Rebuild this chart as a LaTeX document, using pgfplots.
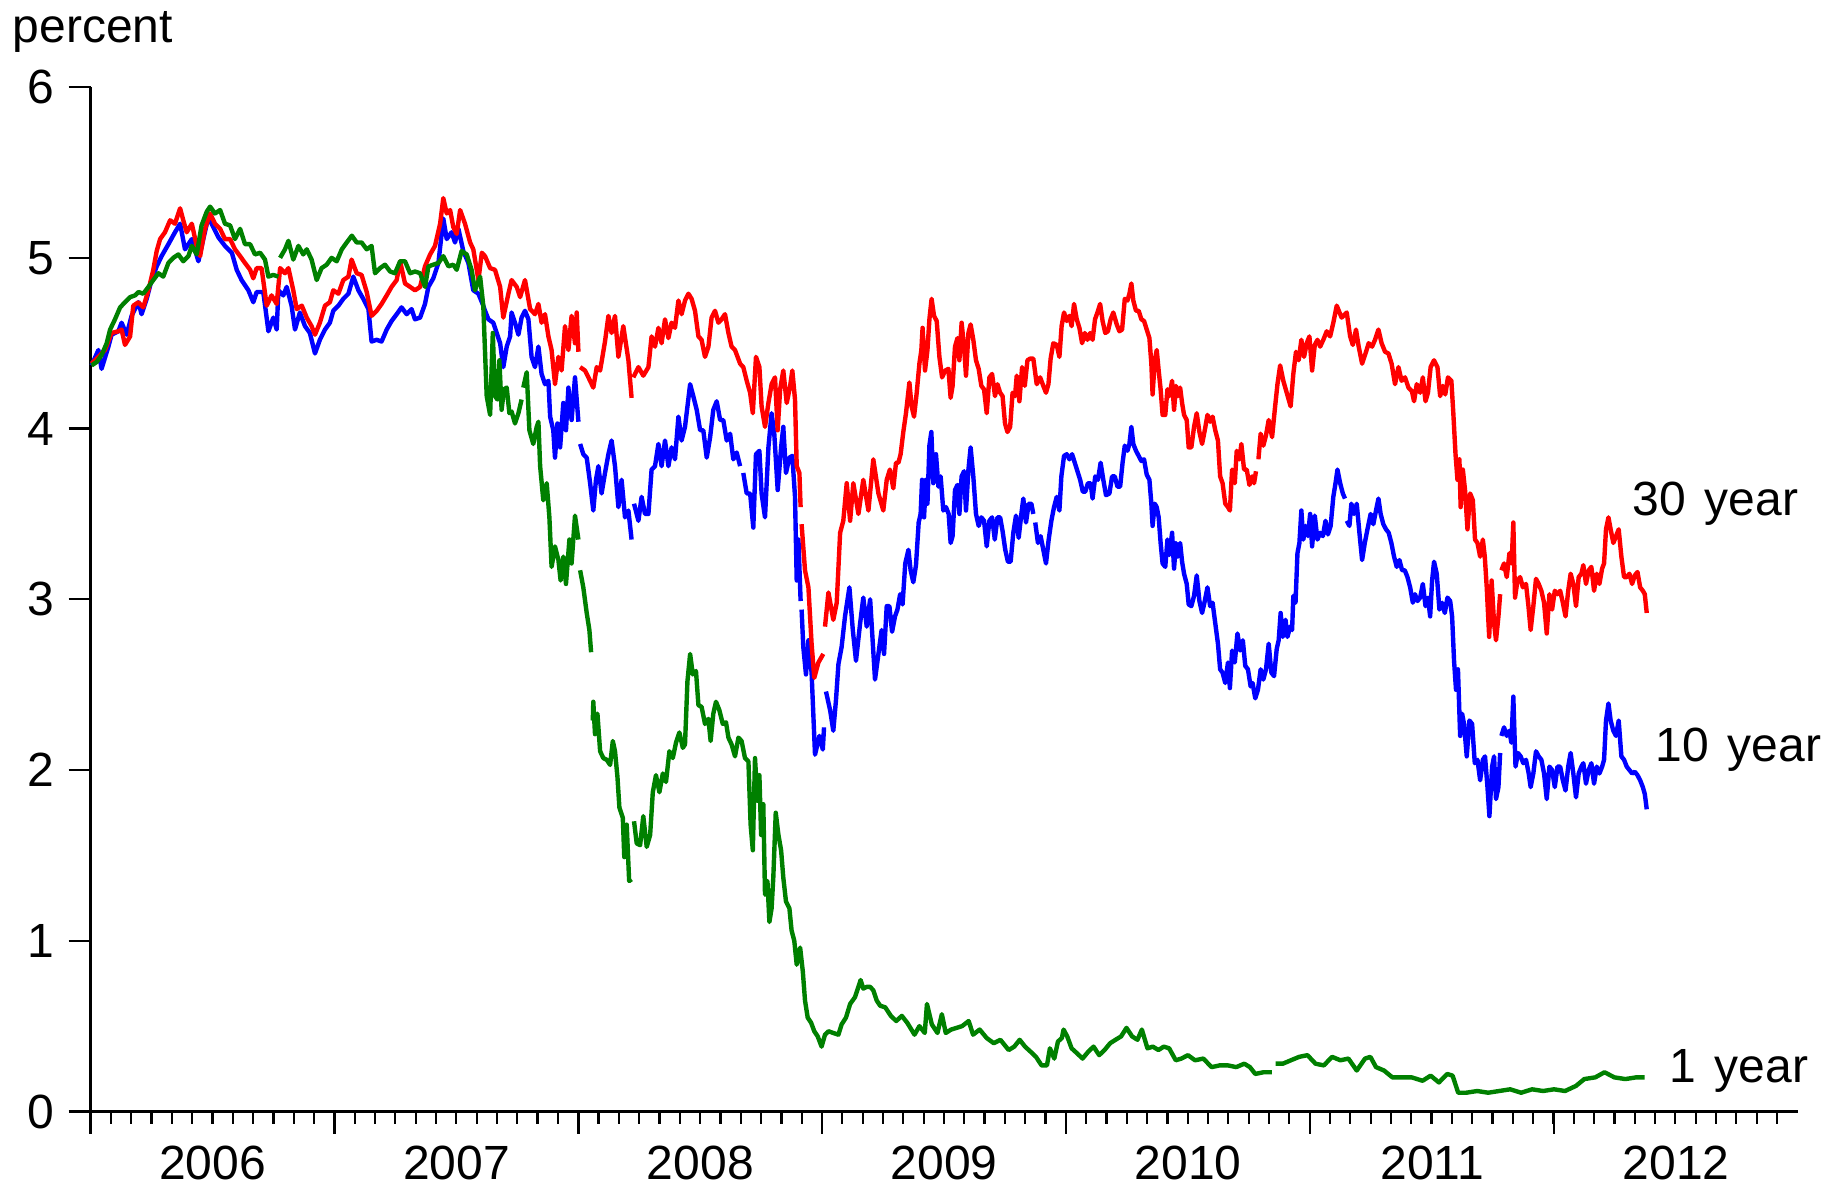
\documentclass[border=0pt]{standalone}
\usepackage{fontspec}
\setmainfont{Liberation Sans}
\usepackage{pgfplots}
\usepackage{pgfplotstable}
\pgfplotsset{compat=1.18}
\definecolor{ered}{RGB}{255,0,0}
\definecolor{eblue}{RGB}{0,0,255}
\definecolor{egreen}{RGB}{0,128,0}

\pgfplotstableread{
x y
2006.004 4.37
2006.032 4.46
2006.045 4.35
2006.073 4.48
2006.086 4.55
2006.114 4.57
2006.127 4.62
2006.148 4.55
2006.168 4.66
2006.196 4.74
2006.209 4.67
2006.230 4.76
2006.250 4.87
2006.271 4.95
2006.291 5.01
2006.319 5.08
2006.346 5.15
2006.367 5.20
2006.387 5.05
2006.415 5.11
2006.442 4.98
2006.462 5.11
2006.483 5.24
2006.503 5.18
2006.524 5.12
2006.551 5.07
2006.579 5.03
2006.599 4.93
2006.619 4.87
2006.647 4.81
2006.667 4.74
2006.681 4.80
2006.708 4.80
2006.729 4.57
2006.749 4.65
2006.763 4.58
2006.770 4.81
2006.790 4.78
2006.804 4.83
2006.824 4.72
2006.838 4.58
2006.858 4.68
2006.879 4.60
2006.899 4.56
2006.920 4.44
2006.940 4.52
2006.961 4.58
2006.981 4.62
2006.995 4.69
2007.016 4.72
2007.036 4.76
2007.057 4.79
2007.077 4.89
2007.098 4.81
2007.118 4.76
2007.139 4.70
2007.152 4.51
2007.173 4.52
2007.193 4.51
2007.214 4.58
2007.234 4.63
2007.255 4.67
2007.275 4.71
2007.296 4.67
2007.316 4.70
2007.330 4.64
2007.351 4.65
2007.371 4.73
2007.385 4.83
2007.405 4.88
2007.426 4.97
2007.446 5.23
2007.460 5.11
2007.480 5.15
2007.494 5.09
2007.508 5.17
2007.528 5.04
2007.549 4.97
2007.569 4.81
2007.590 4.79
2007.610 4.72
2007.617 4.69
2007.631 4.64
2007.651 4.62
2007.665 4.56
2007.679 4.50
2007.692 4.36
2007.706 4.48
2007.720 4.54
2007.726 4.68
2007.740 4.62
2007.754 4.55
2007.767 4.65
2007.781 4.69
2007.795 4.64
2007.808 4.42
2007.822 4.36
2007.836 4.48
2007.849 4.32
2007.863 4.26
2007.877 4.28
2007.884 4.07
2007.897 3.99
2007.904 3.83
2007.914 4.03
2007.925 3.89
2007.938 4.15
2007.949 3.99
2007.959 4.24
2007.972 4.05
2007.986 4.30
2008.000 4.04
2008.003 nan
2008.007 3.91
2008.020 3.85
2008.034 3.83
2008.048 3.68
2008.061 3.52
2008.072 3.70
2008.082 3.78
2008.095 3.62
2008.109 3.74
2008.123 3.85
2008.136 3.93
2008.150 3.78
2008.164 3.54
2008.177 3.70
2008.191 3.48
2008.205 3.52
2008.218 3.35
2008.222 nan
2008.228 3.56
2008.246 3.46
2008.259 3.60
2008.273 3.50
2008.287 3.50
2008.300 3.76
2008.314 3.78
2008.328 3.91
2008.341 3.78
2008.355 3.93
2008.369 3.78
2008.382 3.89
2008.396 3.82
2008.410 4.07
2008.423 3.93
2008.437 4.01
2008.458 4.26
2008.471 4.19
2008.485 4.11
2008.499 3.99
2008.512 3.99
2008.526 3.83
2008.540 3.95
2008.553 4.11
2008.567 4.16
2008.581 4.05
2008.594 4.05
2008.608 3.93
2008.622 3.97
2008.635 3.82
2008.649 3.86
2008.663 3.78
2008.670 nan
2008.676 3.74
2008.690 3.62
2008.704 3.62
2008.717 3.42
2008.728 3.85
2008.742 3.87
2008.751 3.62
2008.765 3.48
2008.779 3.89
2008.792 4.09
2008.803 3.97
2008.817 3.64
2008.831 3.89
2008.840 4.01
2008.851 3.74
2008.865 3.83
2008.877 3.84
2008.888 3.60
2008.895 3.11
2008.902 3.35
2008.911 2.99
2008.913 nan
2008.915 2.94
2008.922 2.72
2008.933 2.56
2008.943 2.76
2008.956 2.57
2008.970 2.09
2008.988 2.20
2009.002 2.12
2009.007 2.25
2009.011 nan
2009.015 2.46
2009.032 2.35
2009.045 2.23
2009.056 2.41
2009.066 2.62
2009.079 2.72
2009.093 2.90
2009.111 3.07
2009.125 2.82
2009.138 2.64
2009.155 2.86
2009.168 3.01
2009.182 2.84
2009.196 3.00
2009.216 2.53
2009.230 2.68
2009.243 2.82
2009.253 2.68
2009.264 2.96
2009.275 2.96
2009.286 2.81
2009.298 2.90
2009.308 2.94
2009.319 3.03
2009.329 2.97
2009.340 3.21
2009.353 3.29
2009.362 3.17
2009.373 3.10
2009.384 3.20
2009.395 3.45
2009.403 3.50
2009.409 3.70
2009.417 3.48
2009.425 3.70
2009.431 3.56
2009.439 3.90
2009.447 3.98
2009.455 3.68
2009.466 3.85
2009.476 3.66
2009.485 3.72
2009.496 3.52
2009.507 3.54
2009.518 3.50
2009.526 3.33
2009.534 3.37
2009.544 3.64
2009.554 3.67
2009.562 3.50
2009.571 3.72
2009.581 3.75
2009.589 3.52
2009.599 3.76
2009.608 3.89
2009.619 3.72
2009.630 3.50
2009.641 3.43
2009.652 3.48
2009.663 3.46
2009.674 3.31
2009.685 3.46
2009.696 3.48
2009.707 3.35
2009.718 3.48
2009.729 3.48
2009.739 3.40
2009.750 3.29
2009.761 3.22
2009.772 3.22
2009.783 3.39
2009.794 3.49
2009.805 3.36
2009.816 3.50
2009.824 3.59
2009.835 3.45
2009.846 3.56
2009.857 3.56
2009.865 3.50
2009.869 nan
2009.873 3.45
2009.884 3.33
2009.895 3.37
2009.906 3.29
2009.917 3.21
2009.928 3.35
2009.939 3.46
2009.950 3.54
2009.961 3.60
2009.972 3.52
2009.980 3.72
2009.991 3.84
2010.002 3.85
2010.013 3.82
2010.024 3.85
2010.035 3.80
2010.046 3.75
2010.057 3.70
2010.068 3.63
2010.078 3.63
2010.089 3.68
2010.100 3.68
2010.108 3.59
2010.119 3.72
2010.130 3.70
2010.141 3.80
2010.152 3.70
2010.163 3.61
2010.177 3.62
2010.188 3.72
2010.199 3.72
2010.210 3.66
2010.221 3.66
2010.231 3.80
2010.240 3.90
2010.251 3.87
2010.259 3.91
2010.267 4.01
2010.275 3.91
2010.286 3.87
2010.297 3.84
2010.308 3.81
2010.319 3.82
2010.330 3.73
2010.341 3.70
2010.349 3.56
2010.354 3.43
2010.363 3.56
2010.371 3.54
2010.379 3.48
2010.387 3.33
2010.395 3.21
2010.406 3.19
2010.415 3.35
2010.423 3.26
2010.434 3.39
2010.442 3.18
2010.450 3.33
2010.458 3.25
2010.467 3.33
2010.475 3.22
2010.483 3.15
2010.494 3.09
2010.502 2.97
2010.513 2.96
2010.524 3.02
2010.535 3.14
2010.546 2.99
2010.557 2.92
2010.568 2.99
2010.579 3.07
2010.590 2.96
2010.600 2.98
2010.611 2.86
2010.622 2.74
2010.631 2.59
2010.641 2.57
2010.652 2.51
2010.663 2.63
2010.671 2.48
2010.680 2.70
2010.691 2.63
2010.702 2.80
2010.713 2.70
2010.724 2.76
2010.734 2.61
2010.745 2.59
2010.756 2.49
2010.764 2.51
2010.775 2.42
2010.786 2.47
2010.797 2.59
2010.808 2.53
2010.819 2.59
2010.830 2.74
2010.841 2.57
2010.852 2.55
2010.863 2.71
2010.871 2.76
2010.879 2.92
2010.888 2.78
2010.899 2.88
2010.907 2.78
2010.918 2.84
2010.926 2.82
2010.931 3.02
2010.940 2.98
2010.948 3.27
2010.956 3.33
2010.964 3.52
2010.972 3.35
2010.981 3.43
2010.991 3.37
2011.000 3.50
2011.008 3.31
2011.019 3.49
2011.030 3.35
2011.041 3.39
2011.052 3.37
2011.063 3.46
2011.073 3.38
2011.084 3.43
2011.095 3.60
2011.104 3.68
2011.112 3.76
2011.123 3.68
2011.134 3.62
2011.143 3.59
2011.146 nan
2011.150 3.46
2011.161 3.43
2011.169 3.56
2011.180 3.50
2011.191 3.56
2011.202 3.39
2011.213 3.23
2011.224 3.33
2011.235 3.41
2011.248 3.50
2011.259 3.44
2011.270 3.52
2011.280 3.59
2011.289 3.50
2011.300 3.44
2011.311 3.41
2011.322 3.39
2011.333 3.33
2011.344 3.25
2011.355 3.19
2011.366 3.23
2011.377 3.17
2011.388 3.17
2011.399 3.13
2011.410 3.07
2011.421 2.98
2011.430 3.03
2011.440 2.99
2011.451 3.01
2011.462 3.09
2011.473 2.96
2011.483 3.01
2011.492 2.90
2011.500 3.11
2011.508 3.22
2011.519 3.15
2011.530 2.94
2011.541 2.98
2011.552 2.92
2011.563 3.01
2011.574 2.99
2011.582 2.90
2011.590 2.64
2011.598 2.47
2011.606 2.59
2011.615 2.20
2011.623 2.33
2011.631 2.27
2011.642 2.08
2011.653 2.29
2011.664 2.27
2011.675 2.04
2011.686 2.06
2011.697 1.94
2011.708 2.06
2011.717 2.08
2011.727 1.90
2011.735 1.73
2011.746 2.02
2011.754 2.08
2011.762 1.83
2011.772 1.90
2011.779 2.10
2011.781 nan
2011.784 2.20
2011.795 2.25
2011.806 2.20
2011.817 2.23
2011.825 2.16
2011.833 2.43
2011.842 2.02
2011.852 2.10
2011.863 2.08
2011.874 2.04
2011.885 2.06
2011.896 1.98
2011.904 1.90
2011.915 1.98
2011.926 2.11
2011.937 2.08
2011.948 2.06
2011.959 1.98
2011.970 1.83
2011.981 2.02
2011.992 2.00
2012.003 1.90
2012.014 2.02
2012.025 2.02
2012.036 1.94
2012.047 1.88
2012.058 2.02
2012.068 2.10
2012.079 1.98
2012.090 1.84
2012.101 1.98
2012.112 2.02
2012.120 2.04
2012.131 1.92
2012.142 2.00
2012.153 2.04
2012.164 1.92
2012.175 2.02
2012.186 1.98
2012.197 2.02
2012.205 2.06
2012.213 2.29
2012.223 2.39
2012.232 2.29
2012.243 2.23
2012.254 2.20
2012.265 2.29
2012.276 2.08
2012.287 2.06
2012.298 2.02
2012.309 2.00
2012.320 1.98
2012.331 1.99
2012.342 1.97
2012.353 1.94
2012.364 1.90
2012.372 1.86
2012.380 1.77
}\blueT

\pgfplotstableread{
x y
2006.004 4.38
2006.059 4.46
2006.086 4.56
2006.114 4.57
2006.127 4.58
2006.141 4.49
2006.162 4.54
2006.175 4.72
2006.196 4.74
2006.216 4.71
2006.237 4.81
2006.257 4.93
2006.271 5.04
2006.285 5.11
2006.305 5.15
2006.326 5.22
2006.346 5.20
2006.367 5.29
2006.380 5.22
2006.394 5.15
2006.415 5.20
2006.435 5.07
2006.449 5.01
2006.469 5.17
2006.490 5.26
2006.510 5.20
2006.531 5.17
2006.551 5.11
2006.572 5.11
2006.592 5.05
2006.613 5.01
2006.633 4.97
2006.654 4.93
2006.667 4.88
2006.681 4.94
2006.701 4.94
2006.722 4.72
2006.742 4.78
2006.763 4.73
2006.777 4.94
2006.797 4.91
2006.811 4.94
2006.831 4.81
2006.845 4.70
2006.866 4.72
2006.886 4.65
2006.906 4.60
2006.920 4.55
2006.940 4.62
2006.961 4.72
2006.981 4.74
2006.995 4.81
2007.016 4.79
2007.036 4.87
2007.057 4.89
2007.070 4.99
2007.091 4.91
2007.111 4.90
2007.132 4.80
2007.152 4.66
2007.173 4.69
2007.193 4.73
2007.214 4.78
2007.234 4.83
2007.255 4.87
2007.269 4.98
2007.289 4.85
2007.310 4.83
2007.330 4.81
2007.351 4.83
2007.371 4.95
2007.392 5.02
2007.412 5.07
2007.433 5.20
2007.446 5.35
2007.460 5.26
2007.474 5.28
2007.487 5.18
2007.501 5.14
2007.515 5.28
2007.535 5.20
2007.556 5.09
2007.569 5.05
2007.590 4.87
2007.604 5.03
2007.617 5.01
2007.638 4.94
2007.658 4.93
2007.679 4.83
2007.692 4.65
2007.713 4.79
2007.726 4.87
2007.747 4.83
2007.761 4.77
2007.781 4.87
2007.802 4.70
2007.822 4.67
2007.836 4.73
2007.849 4.62
2007.863 4.67
2007.877 4.54
2007.890 4.46
2007.904 4.26
2007.918 4.42
2007.931 4.34
2007.945 4.60
2007.959 4.46
2007.972 4.66
2007.986 4.50
2007.993 4.68
2008.000 4.45
2008.003 nan
2008.007 4.36
2008.027 4.34
2008.041 4.30
2008.061 4.24
2008.075 4.36
2008.089 4.34
2008.109 4.51
2008.123 4.66
2008.136 4.56
2008.150 4.66
2008.164 4.42
2008.184 4.60
2008.205 4.40
2008.218 4.18
2008.222 nan
2008.225 4.30
2008.246 4.36
2008.266 4.31
2008.287 4.36
2008.300 4.54
2008.314 4.48
2008.328 4.59
2008.341 4.50
2008.355 4.64
2008.369 4.53
2008.382 4.62
2008.396 4.59
2008.410 4.75
2008.423 4.67
2008.437 4.75
2008.451 4.79
2008.464 4.76
2008.478 4.69
2008.492 4.54
2008.505 4.52
2008.519 4.42
2008.533 4.48
2008.546 4.65
2008.560 4.69
2008.574 4.62
2008.587 4.64
2008.601 4.67
2008.615 4.56
2008.628 4.48
2008.642 4.46
2008.663 4.38
2008.676 4.36
2008.690 4.28
2008.704 4.21
2008.715 4.09
2008.728 4.42
2008.742 4.36
2008.751 4.13
2008.765 4.01
2008.779 4.15
2008.792 4.26
2008.806 4.30
2008.817 3.99
2008.827 4.23
2008.840 4.34
2008.854 4.15
2008.868 4.25
2008.877 4.34
2008.888 4.17
2008.895 3.78
2008.906 3.74
2008.911 3.54
2008.913 nan
2008.915 3.44
2008.929 3.17
2008.943 3.07
2008.956 2.74
2008.967 2.54
2008.984 2.63
2009.004 2.68
2009.008 nan
2009.011 2.84
2009.025 3.04
2009.045 2.88
2009.059 2.98
2009.073 3.39
2009.086 3.46
2009.100 3.68
2009.114 3.46
2009.127 3.68
2009.148 3.50
2009.168 3.70
2009.189 3.52
2009.209 3.82
2009.230 3.62
2009.250 3.52
2009.264 3.70
2009.277 3.76
2009.291 3.65
2009.302 3.80
2009.312 3.80
2009.321 3.85
2009.332 3.98
2009.343 4.09
2009.357 4.27
2009.366 4.13
2009.376 4.07
2009.387 4.21
2009.398 4.38
2009.406 4.46
2009.411 4.59
2009.421 4.34
2009.431 4.46
2009.439 4.64
2009.448 4.76
2009.458 4.66
2009.469 4.63
2009.480 4.42
2009.491 4.30
2009.504 4.34
2009.517 4.35
2009.526 4.18
2009.534 4.25
2009.544 4.48
2009.554 4.53
2009.562 4.40
2009.571 4.62
2009.581 4.48
2009.589 4.31
2009.599 4.56
2009.608 4.61
2009.619 4.52
2009.630 4.40
2009.641 4.35
2009.652 4.25
2009.663 4.23
2009.674 4.09
2009.685 4.30
2009.696 4.32
2009.708 4.19
2009.718 4.26
2009.729 4.21
2009.739 4.19
2009.749 4.03
2009.759 3.98
2009.770 4.01
2009.780 4.21
2009.790 4.19
2009.797 4.31
2009.808 4.16
2009.819 4.36
2009.830 4.25
2009.841 4.40
2009.852 4.41
2009.865 4.41
2009.879 4.26
2009.893 4.30
2009.906 4.25
2009.917 4.21
2009.927 4.26
2009.936 4.41
2009.947 4.50
2009.961 4.49
2009.972 4.42
2009.981 4.60
2009.991 4.68
2010.002 4.63
2010.013 4.66
2010.022 4.60
2010.032 4.73
2010.043 4.64
2010.054 4.59
2010.065 4.50
2010.076 4.56
2010.087 4.52
2010.098 4.56
2010.108 4.52
2010.118 4.64
2010.128 4.68
2010.139 4.73
2010.149 4.63
2010.160 4.56
2010.171 4.57
2010.182 4.64
2010.193 4.68
2010.207 4.61
2010.218 4.57
2010.229 4.58
2010.240 4.76
2010.251 4.75
2010.259 4.79
2010.267 4.85
2010.275 4.75
2010.286 4.69
2010.297 4.69
2010.308 4.64
2010.319 4.63
2010.330 4.58
2010.341 4.53
2010.349 4.38
2010.354 4.20
2010.363 4.40
2010.371 4.46
2010.379 4.34
2010.387 4.23
2010.395 4.08
2010.406 4.08
2010.415 4.23
2010.423 4.19
2010.434 4.28
2010.442 4.11
2010.450 4.25
2010.458 4.19
2010.467 4.24
2010.475 4.15
2010.483 4.08
2010.494 4.05
2010.502 3.89
2010.513 3.89
2010.524 4.01
2010.535 4.09
2010.546 3.98
2010.557 3.91
2010.568 3.99
2010.579 4.08
2010.590 4.04
2010.600 4.07
2010.611 3.99
2010.622 3.93
2010.631 3.72
2010.641 3.68
2010.652 3.56
2010.663 3.54
2010.671 3.52
2010.680 3.76
2010.691 3.68
2010.699 3.87
2010.710 3.82
2010.718 3.91
2010.729 3.76
2010.740 3.76
2010.751 3.67
2010.762 3.72
2010.770 3.68
2010.778 3.75
2010.783 nan
2010.788 3.82
2010.797 3.97
2010.808 3.90
2010.819 3.96
2010.830 4.05
2010.844 3.95
2010.855 4.11
2010.866 4.26
2010.877 4.37
2010.890 4.28
2010.904 4.21
2010.920 4.13
2010.931 4.32
2010.942 4.45
2010.953 4.40
2010.964 4.52
2010.975 4.42
2010.986 4.50
2010.997 4.54
2011.008 4.34
2011.019 4.49
2011.030 4.52
2011.041 4.48
2011.054 4.52
2011.068 4.57
2011.082 4.54
2011.095 4.62
2011.109 4.72
2011.129 4.65
2011.150 4.68
2011.164 4.54
2011.175 4.49
2011.188 4.58
2011.199 4.48
2011.213 4.38
2011.227 4.44
2011.240 4.50
2011.254 4.48
2011.266 4.52
2011.280 4.58
2011.293 4.50
2011.307 4.45
2011.321 4.44
2011.334 4.38
2011.348 4.26
2011.362 4.36
2011.375 4.28
2011.389 4.30
2011.403 4.24
2011.417 4.22
2011.426 4.16
2011.437 4.26
2011.451 4.21
2011.462 4.30
2011.473 4.16
2011.483 4.21
2011.494 4.36
2011.508 4.40
2011.522 4.36
2011.533 4.19
2011.544 4.25
2011.554 4.20
2011.565 4.30
2011.579 4.28
2011.587 4.09
2011.596 3.85
2011.604 3.70
2011.612 3.82
2011.617 3.54
2011.626 3.76
2011.635 3.64
2011.645 3.41
2011.656 3.62
2011.667 3.58
2011.676 3.35
2011.686 3.33
2011.697 3.25
2011.708 3.35
2011.716 3.25
2011.724 3.07
2011.734 2.78
2011.744 3.11
2011.754 2.86
2011.762 2.76
2011.772 2.90
2011.779 3.03
2011.781 nan
2011.784 3.17
2011.795 3.21
2011.806 3.13
2011.817 3.27
2011.826 3.21
2011.833 3.45
2011.840 3.01
2011.850 3.11
2011.861 3.13
2011.872 3.07
2011.885 3.09
2011.895 2.96
2011.904 2.82
2011.915 2.96
2011.926 3.12
2011.937 3.09
2011.948 3.05
2011.959 2.98
2011.970 2.80
2011.981 3.03
2011.992 2.94
2012.003 3.05
2012.014 3.03
2012.025 3.05
2012.036 2.98
2012.047 2.90
2012.058 3.05
2012.068 3.15
2012.079 3.09
2012.090 2.96
2012.101 3.13
2012.112 3.15
2012.120 3.20
2012.131 3.09
2012.142 3.17
2012.153 3.19
2012.164 3.05
2012.175 3.15
2012.186 3.09
2012.197 3.18
2012.205 3.21
2012.213 3.41
2012.223 3.48
2012.232 3.41
2012.243 3.33
2012.254 3.37
2012.265 3.41
2012.276 3.25
2012.287 3.13
2012.298 3.13
2012.309 3.15
2012.320 3.09
2012.331 3.14
2012.342 3.16
2012.353 3.07
2012.364 3.05
2012.372 3.03
2012.380 2.92
}\redT

\pgfplotstableread{
x y
2006.004 4.37
2006.025 4.39
2006.045 4.43
2006.066 4.50
2006.080 4.58
2006.100 4.64
2006.121 4.71
2006.141 4.74
2006.162 4.77
2006.182 4.78
2006.196 4.80
2006.216 4.79
2006.237 4.83
2006.257 4.87
2006.278 4.91
2006.298 4.89
2006.319 4.97
2006.339 5.00
2006.360 5.02
2006.380 4.98
2006.401 5.01
2006.415 5.07
2006.435 5.02
2006.455 5.19
2006.476 5.27
2006.490 5.30
2006.510 5.26
2006.531 5.28
2006.551 5.20
2006.572 5.19
2006.592 5.11
2006.613 5.17
2006.633 5.08
2006.654 5.08
2006.674 5.02
2006.695 5.03
2006.715 4.99
2006.729 4.89
2006.749 4.90
2006.770 4.89
2006.773 nan
2006.777 5.00
2006.797 5.05
2006.811 5.10
2006.831 4.99
2006.852 5.07
2006.872 5.02
2006.886 5.05
2006.906 4.99
2006.927 4.87
2006.947 4.94
2006.968 4.96
2006.988 5.00
2007.009 4.98
2007.030 5.05
2007.050 5.09
2007.071 5.13
2007.091 5.09
2007.111 5.09
2007.132 5.05
2007.152 5.07
2007.166 4.91
2007.187 4.94
2007.207 4.96
2007.228 4.92
2007.248 4.91
2007.269 4.98
2007.289 4.98
2007.310 4.91
2007.330 4.92
2007.351 4.91
2007.371 4.83
2007.385 4.95
2007.405 4.96
2007.426 4.97
2007.446 5.01
2007.467 4.95
2007.487 4.96
2007.501 4.93
2007.521 5.04
2007.542 5.02
2007.562 4.93
2007.576 4.81
2007.597 4.89
2007.610 4.72
2007.624 4.19
2007.638 4.08
2007.649 4.56
2007.658 4.19
2007.668 4.17
2007.676 4.40
2007.685 4.11
2007.695 4.23
2007.706 4.24
2007.717 4.09
2007.726 4.10
2007.740 4.03
2007.754 4.09
2007.767 4.17
2007.770 nan
2007.774 4.24
2007.788 4.33
2007.799 3.99
2007.815 3.91
2007.829 4.01
2007.836 4.04
2007.843 3.78
2007.856 3.58
2007.870 3.68
2007.881 3.48
2007.890 3.19
2007.904 3.31
2007.918 3.23
2007.927 3.11
2007.938 3.25
2007.949 3.09
2007.963 3.35
2007.972 3.21
2007.986 3.49
2008.000 3.35
2008.003 nan
2008.007 3.17
2008.020 3.07
2008.034 2.92
2008.045 2.82
2008.052 2.69
2008.055 nan
2008.059 2.29
2008.061 2.40
2008.068 2.21
2008.078 2.33
2008.089 2.11
2008.102 2.07
2008.116 2.06
2008.130 2.03
2008.141 2.17
2008.150 2.11
2008.160 1.96
2008.168 1.78
2008.182 1.72
2008.188 1.49
2008.198 1.68
2008.208 1.35
2008.218 1.36
2008.222 nan
2008.228 1.70
2008.239 1.57
2008.253 1.56
2008.266 1.73
2008.280 1.55
2008.294 1.62
2008.305 1.87
2008.318 1.97
2008.332 1.87
2008.346 1.98
2008.359 1.93
2008.373 2.11
2008.387 2.07
2008.400 2.16
2008.414 2.22
2008.428 2.13
2008.437 2.15
2008.447 2.52
2008.458 2.68
2008.469 2.56
2008.482 2.58
2008.492 2.38
2008.505 2.37
2008.519 2.27
2008.533 2.30
2008.542 2.17
2008.553 2.33
2008.564 2.40
2008.578 2.35
2008.592 2.27
2008.605 2.28
2008.615 2.19
2008.628 2.15
2008.642 2.08
2008.656 2.19
2008.669 2.17
2008.683 2.07
2008.697 2.05
2008.706 1.68
2008.715 1.53
2008.724 2.07
2008.734 1.82
2008.742 1.97
2008.749 1.62
2008.758 1.80
2008.765 1.27
2008.775 1.35
2008.783 1.11
2008.792 1.19
2008.799 1.37
2008.809 1.75
2008.820 1.62
2008.831 1.53
2008.840 1.37
2008.851 1.23
2008.865 1.19
2008.874 1.06
2008.885 1.00
2008.895 0.86
2008.909 0.96
2008.920 0.82
2008.929 0.65
2008.940 0.55
2008.954 0.52
2008.967 0.47
2008.981 0.44
2008.997 0.38
2009.011 0.45
2009.025 0.47
2009.045 0.46
2009.066 0.45
2009.079 0.51
2009.097 0.55
2009.114 0.63
2009.134 0.67
2009.148 0.73
2009.157 0.77
2009.168 0.72
2009.182 0.73
2009.196 0.73
2009.209 0.71
2009.223 0.65
2009.237 0.62
2009.258 0.61
2009.281 0.56
2009.303 0.53
2009.326 0.56
2009.348 0.52
2009.378 0.45
2009.398 0.50
2009.420 0.46
2009.429 0.63
2009.449 0.51
2009.472 0.46
2009.490 0.57
2009.506 0.46
2009.528 0.48
2009.551 0.49
2009.573 0.50
2009.600 0.53
2009.618 0.45
2009.645 0.48
2009.674 0.43
2009.703 0.40
2009.730 0.42
2009.764 0.36
2009.787 0.38
2009.809 0.42
2009.831 0.38
2009.854 0.35
2009.876 0.32
2009.899 0.27
2009.921 0.27
2009.933 0.37
2009.951 0.31
2009.966 0.41
2009.982 0.43
2009.989 0.48
2010.004 0.44
2010.022 0.37
2010.045 0.34
2010.067 0.31
2010.090 0.35
2010.112 0.38
2010.135 0.33
2010.157 0.36
2010.180 0.40
2010.202 0.42
2010.225 0.44
2010.247 0.49
2010.270 0.44
2010.292 0.42
2010.310 0.48
2010.333 0.37
2010.355 0.38
2010.378 0.36
2010.400 0.38
2010.422 0.37
2010.449 0.30
2010.472 0.31
2010.499 0.33
2010.528 0.30
2010.562 0.31
2010.596 0.26
2010.629 0.27
2010.663 0.27
2010.697 0.26
2010.730 0.28
2010.753 0.26
2010.775 0.22
2010.809 0.23
2010.843 0.23
2010.850 nan
2010.858 0.28
2010.888 0.28
2010.921 0.30
2010.955 0.32
2010.989 0.33
2011.022 0.28
2011.056 0.27
2011.090 0.32
2011.124 0.30
2011.157 0.31
2011.191 0.24
2011.225 0.31
2011.247 0.32
2011.270 0.26
2011.303 0.24
2011.337 0.20
2011.371 0.20
2011.416 0.20
2011.461 0.18
2011.494 0.21
2011.528 0.17
2011.562 0.22
2011.584 0.21
2011.607 0.11
2011.640 0.11
2011.685 0.12
2011.730 0.11
2011.775 0.12
2011.820 0.13
2011.865 0.11
2011.910 0.13
2011.955 0.12
2012.000 0.13
2012.045 0.12
2012.090 0.15
2012.124 0.19
2012.169 0.20
2012.207 0.23
2012.247 0.20
2012.292 0.19
2012.337 0.20
2012.371 0.20
}\greenT

\begin{document}
\begin{tikzpicture}
\useasboundingbox (-22.65pt,-19.375pt) rectangle (432.6pt,277.875pt);
\begin{axis}[
  at={(0pt,0pt)}, anchor=south west,
  scale only axis, width=426.85pt, height=256.1pt,
  xmin=2006, xmax=2013, ymin=0, ymax=6,
  axis lines=left,
  axis line style={-, line width=0.75pt},
  xtick={2006,2007,2008,2009,2010,2011,2012},
  xticklabels={,,,,,,},
  minor xtick={2006,2006.083333,...,2012.95},
  ytick={0,1,2,3,4,5,6},
  tick align=outside,
  major tick length=5.5pt, minor tick length=3pt,
  every tick/.style={black, line width=0.55pt},
  extra x ticks={2006.5,2007.5,2008.5,2009.5,2010.5,2011.5,2012.5},
  extra x tick labels={2006,2007,2008,2009,2010,2011,2012},
  extra x tick style={major tick length=0pt, xticklabel style={yshift=-5pt}},
  ticklabel style={font=\fontsize{12}{14}\selectfont},
  /pgf/number format/assume math mode=true,
  unbounded coords=jump,
  clip=false,
]
\addplot[eblue, line width=1.1pt, line join=round] table[x=x,y=y] {\blueT};
\addplot[ered, line width=1.1pt, line join=round] table[x=x,y=y] {\redT};
\addplot[egreen, line width=1.1pt, line join=round] table[x=x,y=y] {\greenT};
\node[anchor=west, inner sep=0pt, font=\fontsize{12}{14}\selectfont] at (axis cs:2012.32,3.56) {30\kern1.3pt\ year};
\node[anchor=west, inner sep=0pt, font=\fontsize{12}{14}\selectfont] at (axis cs:2012.414,2.12) {10\kern1.3pt\ year};
\node[anchor=west, inner sep=0pt, font=\fontsize{12}{14}\selectfont] at (axis cs:2012.471,0.24) {1\kern1.3pt\ year};
\end{axis}
\node[anchor=west, font=\fontsize{12}{14}\selectfont, inner sep=0pt] at (-19.65pt,269.9pt) {percent};
\end{tikzpicture}
\end{document}
